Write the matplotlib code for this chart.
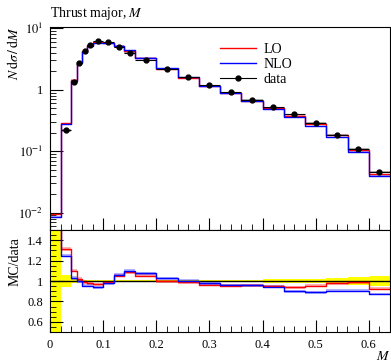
import numpy as np
import matplotlib
matplotlib.use("Agg")
from matplotlib import pyplot as plt
from matplotlib.lines import Line2D
from matplotlib.ticker import MultipleLocator, FixedLocator, FixedFormatter, LogLocator, NullFormatter

plt.rcParams['font.family'] = ['Liberation Serif', 'DejaVu Serif']
plt.rcParams['mathtext.fontset'] = 'stix'
plt.rcParams['font.size'] = 9

# bin edges of the thrust major distribution
edges = [0, 0.02, 0.04, 0.05, 0.06, 0.07, 0.08, 0.10, 0.12, 0.14, 0.16, 0.20,
         0.24, 0.28, 0.32, 0.36, 0.40, 0.44, 0.48, 0.52, 0.56, 0.60, 0.64]

data = [0.003, 0.218, 1.33, 2.75, 4.24, 5.39, 6.17, 5.88, 4.87, 4.00, 3.07,
        2.19, 1.60, 1.19, 0.914, 0.688, 0.521, 0.401, 0.286, 0.185, 0.107, 0.0458]
data_err = [0.002, 0.013, 0.02, 0.033, 0.042, 0.054, 0.062, 0.059, 0.049, 0.040, 0.031,
            0.022, 0.016, 0.014, 0.011, 0.010, 0.009, 0.008, 0.007, 0.0056, 0.0037, 0.0021]

lo = [0.0093, 0.286, 1.463, 2.805, 4.198, 5.282, 5.985, 5.821, 5.114, 4.34, 3.224,
      2.183, 1.579, 1.148, 0.873, 0.660, 0.495, 0.377, 0.273, 0.181, 0.1056, 0.0423]
nlo = [0.0086, 0.2725, 1.370, 2.75, 4.049, 5.147, 5.800, 5.762, 5.152, 4.40, 3.306,
       2.247, 1.605, 1.164, 0.877, 0.660, 0.492, 0.361, 0.2545, 0.1676, 0.0969, 0.0400]

edges = np.array(edges)
data = np.array(data)
data_err = np.array(data_err)
lo = np.array(lo)
nlo = np.array(nlo)
centers = 0.5 * (edges[1:] + edges[:-1])
halfw = 0.5 * (edges[1:] - edges[:-1])


def step(a):
    return np.append(a, a[-1])


fig = plt.figure(figsize=(3.91, 3.62), dpi=100)
ax = fig.add_axes([50/391, 1 - 230/362, 340/391, 203/362])
rx = fig.add_axes([50/391, 1 - 332/362, 340/391, 102/362], sharex=ax)

# main panel
ax.fill_between(edges, step(data - data_err), step(data + data_err), step='post',
                color='0.5', alpha=0.6, lw=0)
ax.fill_between(edges, step(lo * 0.98), step(lo * 1.02), step='post', color='red', alpha=0.3, lw=0)
ax.fill_between(edges, step(nlo * 0.98), step(nlo * 1.02), step='post', color='blue', alpha=0.3, lw=0)
ax.step(edges, step(lo), where='post', color='red', lw=1)
ax.step(edges, step(nlo), where='post', color='blue', lw=1)
ax.errorbar(centers, data, xerr=halfw, yerr=data_err, fmt='o', color='black',
            ms=3.5, lw=0.8, capsize=0)
ax.set_yscale('log')
ax.set_ylim(0.0052, 10.5)
ax.set_xlim(0, 0.64)
ax.yaxis.set_major_locator(FixedLocator([0.01, 0.1, 1, 10]))
ax.yaxis.set_major_formatter(FixedFormatter(['$10^{-2}$', '$10^{-1}$', '1', '$10^{1}$']))
ax.yaxis.set_minor_locator(LogLocator(base=10, subs=np.arange(2, 10)))
ax.yaxis.set_minor_formatter(NullFormatter())
ax.tick_params(labelbottom=False)
ax.set_ylabel(r'$N\,\mathrm{d}\sigma\,/\,\mathrm{d}M$', loc='top', fontsize=10)
ax.set_title(r'Thrust major, $M$', loc='left', fontsize=10, pad=7)

handles = [Line2D([], [], color='red', lw=1),
           Line2D([], [], color='blue', lw=1),
           Line2D([], [], color='black', lw=0.8, marker='o', ms=3.5)]
ax.legend(handles, ['LO', 'NLO', 'data'], loc='upper left', bbox_to_anchor=(0.47, 0.97),
          frameon=False, fontsize=10, handlelength=2.6, handletextpad=0.6, labelspacing=0.15,
          borderpad=0.2)

# ratio panel
rel = data_err / data
rx.fill_between(edges, step(1 - rel), step(1 + rel), step='post', color='yellow', lw=0)
rx.axhline(1, color='black', lw=1)
rx.fill_between(edges, step(lo / data * 0.985), step(lo / data * 1.015), step='post',
                color='red', alpha=0.3, lw=0)
rx.fill_between(edges, step(nlo / data * 0.985), step(nlo / data * 1.015), step='post',
                color='blue', alpha=0.3, lw=0)
rx.step(edges, step(lo / data), where='post', color='red', lw=1)
rx.step(edges, step(nlo / data), where='post', color='blue', lw=1)
rx.set_ylim(0.5, 1.5)
rx.set_xlim(0, 0.64)
rx.yaxis.set_major_locator(FixedLocator([0.6, 0.8, 1.0, 1.2, 1.4]))
rx.yaxis.set_major_formatter(FixedFormatter(['0.6', '0.8', '1', '1.2', '1.4']))
rx.yaxis.set_minor_locator(MultipleLocator(0.05))
rx.xaxis.set_major_locator(FixedLocator([0, 0.1, 0.2, 0.3, 0.4, 0.5, 0.6]))
rx.xaxis.set_minor_locator(MultipleLocator(0.02))
rx.xaxis.set_major_formatter(FixedFormatter(['0', '0.1', '0.2', '0.3', '0.4', '0.5', '0.6']))
rx.set_ylabel('MC/data', loc='top', fontsize=10)
rx.set_xlabel('$M$', loc='right', labelpad=-1, fontsize=10)

for a in (ax, rx):
    a.tick_params(which='both', direction='in', top=False, right=False)
    a.tick_params(which='major', length=9, width=0.8, pad=5)
    a.tick_params(which='minor', length=4, width=0.6)
ax.yaxis.set_label_coords(-0.085, 1.0)
rx.yaxis.set_label_coords(-0.085, 0.93)

fig.savefig('out.png', dpi=100)
